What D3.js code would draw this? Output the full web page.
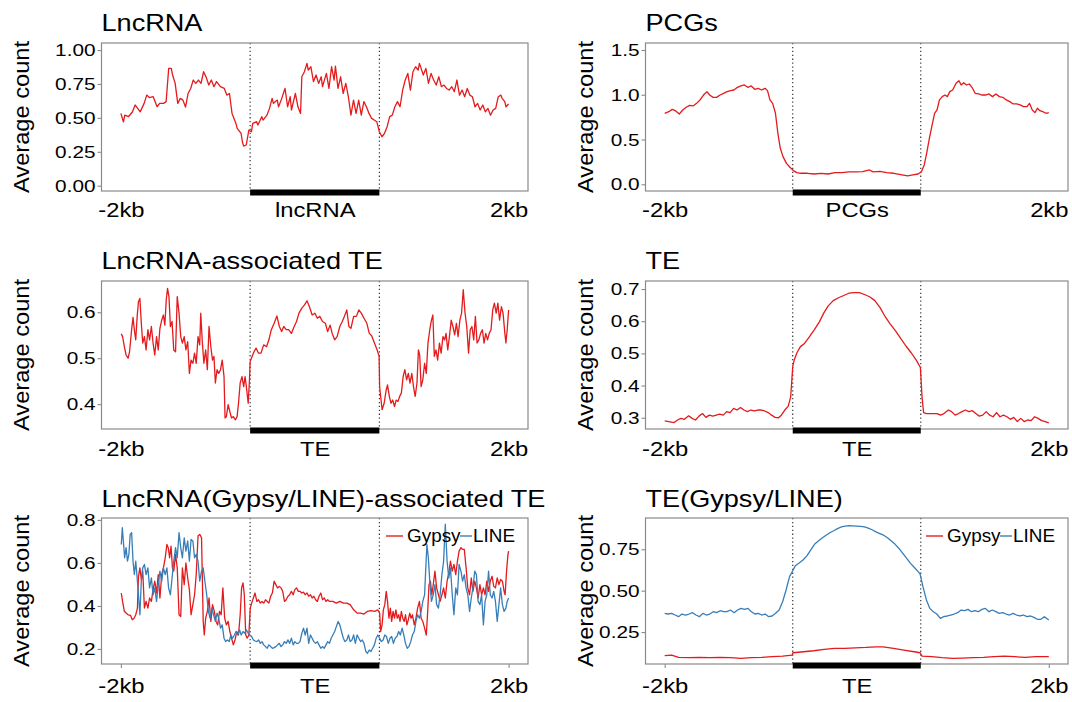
<!DOCTYPE html>
<html><head><meta charset="utf-8">
<script src="https://cdn.jsdelivr.net/npm/d3@7"></script>
<style>body{margin:0;background:#fff}svg{display:block}</style>
</head><body>
<svg id="c" width="1072" height="702"></svg>
<script>
// ---------------- data (bin position 0..300, average count) ----------------
const titles = ["LncRNA", "PCGs", "LncRNA-associated TE", "TE", "LncRNA(Gypsy/LINE)-associated TE", "TE(Gypsy/LINE)"];
const xLabelsLnc = ["-2kb", "lncRNA", "2kb"];
const xLabelsPcg = ["-2kb", "PCGs", "2kb"];
const xLabelsTe = ["-2kb", "TE", "2kb"];
const xTickBins = [0, 150, 300];
const regionBins = [100, 200];
const seriesNames = ["Gypsy", "LINE"];

const yTicks1 = [0, 0.25, 0.5, 0.75, 1.0];   const yLabels1 = ["0.00","0.25","0.50","0.75","1.00"];
const yTicks2 = [0, 0.5, 1.0, 1.5];          const yLabels2 = ["0.0","0.5","1.0","1.5"];
const yTicks3 = [0.4, 0.5, 0.6];             const yLabels3 = ["0.4","0.5","0.6"];
const yTicks4 = [0.3, 0.4, 0.5, 0.6, 0.7];   const yLabels4 = ["0.3","0.4","0.5","0.6","0.7"];
const yTicks5 = [0.2, 0.4, 0.6, 0.8];        const yLabels5 = ["0.2","0.4","0.6","0.8"];
const yTicks6 = [0.25, 0.5, 0.75];           const yLabels6 = ["0.25","0.50","0.75"];

const lncProfile = [[0,0.533],[2,0.47],[3,0.52],[6,0.51],[9,0.545],[11,0.595],[13,0.57],[15,0.545],[18,0.607],[20,0.668],[22,0.65],[25,0.656],[28,0.582],[30,0.607],[33,0.607],[35,0.62],[37,0.865],[39,0.865],[40,0.816],[42,0.754],[44,0.607],[46,0.644],[48,0.631],[50,0.58],[52,0.68],[54,0.717],[56,0.779],[58,0.754],[60,0.779],[62,0.754],[64,0.84],[66,0.80],[68,0.742],[70,0.779],[72,0.73],[74,0.767],[77,0.73],[80,0.717],[82,0.668],[84,0.68],[86,0.533],[89,0.459],[90,0.423],[93,0.386],[94,0.324],[95,0.292],[97,0.30],[99,0.41],[101,0.398],[102,0.459],[105,0.472],[106,0.447],[109,0.509],[110,0.484],[113,0.52],[115,0.57],[117,0.644],[118,0.607],[121,0.631],[122,0.582],[124,0.631],[127,0.717],[129,0.582],[131,0.656],[132,0.558],[135,0.68],[137,0.582],[139,0.533],[140,0.803],[142,0.84],[144,0.902],[145,0.852],[147,0.877],[149,0.767],[151,0.816],[153,0.754],[155,0.803],[156,0.73],[159,0.828],[161,0.717],[163,0.877],[165,0.779],[166,0.882],[168,0.717],[170,0.803],[172,0.68],[174,0.754],[176,0.656],[178,0.52],[180,0.631],[182,0.533],[184,0.631],[186,0.52],[188,0.62],[190,0.582],[192,0.533],[194,0.496],[196,0.484],[198,0.472],[200,0.398],[202,0.361],[204,0.386],[206,0.435],[208,0.509],[210,0.52],[212,0.582],[214,0.62],[216,0.582],[218,0.705],[220,0.779],[222,0.828],[224,0.705],[226,0.84],[228,0.877],[230,0.852],[231,0.902],[234,0.816],[236,0.865],[238,0.754],[240,0.828],[242,0.779],[244,0.742],[246,0.803],[248,0.73],[250,0.742],[252,0.717],[254,0.705],[256,0.73],[258,0.693],[260,0.779],[262,0.668],[264,0.705],[266,0.656],[268,0.717],[270,0.668],[272,0.656],[274,0.582],[276,0.607],[278,0.558],[280,0.595],[282,0.545],[284,0.57],[286,0.52],[288,0.558],[290,0.57],[292,0.656],[294,0.668],[295,0.644],[297,0.62],[298,0.582],[300,0.602]];

const pcgProfile = [[0,0.793],[3.2,0.811],[5.9,0.837],[8.6,0.819],[11.4,0.785],[14.1,0.83],[16.8,0.86],[19.5,0.882],[22.2,0.875],[24.9,0.904],[27.6,0.942],[30.3,0.997],[33,1.035],[35.1,0.997],[37.8,0.971],[40.5,0.971],[43.2,0.997],[46,1.016],[48.7,1.035],[51.4,1.046],[54.1,1.053],[56.8,1.083],[59.5,1.098],[62.2,1.109],[64.9,1.083],[67.6,1.098],[70.3,1.061],[73,1.072],[75.7,1.053],[78.4,1.072],[80.3,1.046],[82.2,0.942],[84.3,0.904],[86.5,0.793],[88.4,0.569],[90.3,0.402],[92.4,0.309],[95.1,0.234],[97.8,0.19],[100.5,0.153],[103.2,0.13],[106,0.123],[111.4,0.123],[116.8,0.115],[122.2,0.123],[127.6,0.115],[133,0.13],[138.4,0.13],[143.8,0.138],[149.2,0.138],[154.6,0.141],[160,0.16],[162.7,0.138],[168.1,0.145],[173.5,0.13],[178.9,0.123],[184.3,0.108],[189.8,0.093],[193.8,0.104],[197.9,0.115],[200.5,0.141],[202.7,0.216],[204.6,0.346],[206.5,0.495],[208.6,0.644],[210.8,0.793],[212.7,0.83],[214.6,0.942],[216.8,0.979],[218.9,0.997],[220.8,0.979],[222.7,1.035],[224.9,1.053],[227.6,1.128],[229.8,1.157],[231.6,1.109],[233.5,1.135],[235.7,1.109],[237.9,1.12],[240,1.083],[242.5,1.016],[245.2,1.009],[247.9,0.997],[250.6,0.997],[253.3,1.009],[256,0.979],[258.7,1.009],[261.4,0.979],[264.1,0.971],[266.8,0.942],[269.5,0.923],[272.2,0.897],[274.9,0.897],[277.6,0.886],[280.3,0.867],[283,0.867],[284.9,0.904],[287.1,0.83],[289.2,0.8],[291.1,0.849],[293,0.822],[295.2,0.811],[297.9,0.793],[300,0.8]];

const lncTeProfile = [[0.3,0.553],[1.3,0.547],[2.7,0.525],[4,0.507],[5.6,0.5],[6.7,0.514],[8.3,0.562],[9.4,0.589],[10.4,0.562],[11.5,0.54],[12.6,0.591],[13.6,0.623],[14.7,0.63],[15.8,0.576],[16.9,0.533],[18.2,0.547],[19.5,0.518],[20.9,0.562],[22.2,0.54],[23.6,0.569],[24.9,0.533],[26.2,0.507],[27.6,0.547],[28.9,0.518],[30.2,0.565],[31.6,0.583],[32.9,0.594],[34,0.572],[35.1,0.627],[36.1,0.652],[37.2,0.634],[38.3,0.569],[39.6,0.58],[40.9,0.518],[42.3,0.514],[43.6,0.634],[45,0.598],[46.3,0.547],[47.6,0.533],[49,0.547],[50.3,0.518],[51.7,0.536],[53,0.467],[54.3,0.496],[55.7,0.489],[57,0.511],[58.3,0.489],[59.7,0.547],[61,0.529],[61.8,0.598],[62.9,0.54],[64.2,0.489],[65.6,0.518],[66.9,0.475],[68.2,0.569],[69.6,0.525],[70.9,0.496],[72,0.504],[73.1,0.446],[74.4,0.475],[75.7,0.467],[77.1,0.475],[78.4,0.496],[79.8,0.46],[80.6,0.37],[81.6,0.373],[83,0.399],[84.3,0.384],[85.6,0.37],[87,0.373],[88.6,0.366],[89.9,0.373],[91,0.402],[92.3,0.446],[93.7,0.46],[95,0.438],[96.1,0.46],[97.1,0.438],[98.5,0.402],[99.5,0.453],[100,0.493],[102.5,0.511],[104.6,0.522],[106.5,0.511],[108.4,0.511],[110.5,0.529],[112.7,0.525],[114.5,0.54],[116.4,0.562],[118.6,0.576],[120.7,0.592],[122.6,0.569],[124.4,0.558],[126,0.569],[127.9,0.562],[129.8,0.562],[131.9,0.554],[134.1,0.569],[135.9,0.58],[137.8,0.598],[140,0.609],[142.1,0.616],[144,0.625],[145.9,0.612],[148,0.594],[150.1,0.598],[152,0.587],[153.9,0.591],[156,0.58],[158.2,0.576],[160,0.558],[161.9,0.572],[163.5,0.554],[165.4,0.54],[167.3,0.547],[169.4,0.569],[171.3,0.58],[172.9,0.591],[174.8,0.605],[176.4,0.569],[178,0.565],[180.1,0.591],[182.2,0.591],[184.1,0.605],[186,0.598],[188.1,0.587],[190.3,0.576],[192.2,0.554],[194,0.549],[196.2,0.533],[198.3,0.518],[199.8,0.504],[200.2,0.438],[202.1,0.388],[203.7,0.402],[205.3,0.431],[206.3,0.442],[207.7,0.417],[209,0.402],[210.3,0.409],[211.7,0.395],[213,0.409],[214.4,0.406],[215.7,0.417],[217,0.424],[218.4,0.46],[219.7,0.475],[221.1,0.453],[222.4,0.467],[223.7,0.446],[225.1,0.467],[226.4,0.438],[227.7,0.417],[229.1,0.446],[230.2,0.518],[231.2,0.507],[232.3,0.438],[233.6,0.453],[235,0.489],[236.3,0.467],[237.6,0.533],[239,0.562],[240.3,0.583],[241.4,0.594],[242.5,0.504],[243.8,0.518],[245.1,0.496],[246.5,0.533],[247.8,0.511],[249.2,0.547],[250.5,0.54],[251.6,0.554],[252.9,0.518],[254.2,0.547],[255.6,0.583],[256.9,0.569],[258.3,0.551],[259.6,0.576],[260.9,0.547],[262.3,0.583],[263.6,0.598],[264.9,0.649],[266.3,0.598],[267.6,0.569],[269,0.511],[270.3,0.562],[271.6,0.569],[273,0.54],[274.3,0.591],[275.6,0.533],[277,0.54],[278.3,0.554],[279.7,0.562],[281,0.533],[282.3,0.554],[283.7,0.54],[285,0.554],[286.4,0.562],[287.7,0.605],[289,0.62],[290.4,0.598],[291.7,0.62],[293,0.583],[294.4,0.612],[295.7,0.598],[297.1,0.554],[297.9,0.533],[298.9,0.562],[300,0.605]];

const teProfile = [[0,0.29],[3.2,0.288],[7.3,0.285],[10,0.293],[12.7,0.298],[15.4,0.295],[18.7,0.306],[21.4,0.298],[24.1,0.293],[26.8,0.305],[29.5,0.313],[32.2,0.301],[34.9,0.308],[37.6,0.305],[40.3,0.308],[43,0.311],[45.7,0.308],[48.4,0.319],[51.1,0.316],[53.8,0.329],[56.5,0.324],[59.2,0.332],[61.9,0.324],[64.6,0.319],[67.3,0.324],[70,0.321],[72.7,0.324],[75.4,0.324],[78.1,0.321],[80.8,0.316],[83.5,0.308],[86.2,0.301],[88.9,0.3],[91.1,0.308],[93.8,0.324],[96.5,0.336],[98.4,0.365],[100,0.459],[101.1,0.479],[103.3,0.502],[106,0.521],[109.2,0.531],[112.7,0.55],[116.8,0.573],[120.8,0.598],[124.3,0.626],[127.6,0.647],[131.6,0.664],[135.7,0.673],[139.8,0.68],[143.8,0.687],[147.9,0.689],[151.9,0.689],[156,0.683],[160,0.676],[164.1,0.664],[168.1,0.643],[172.2,0.614],[176.2,0.591],[180.3,0.57],[184.3,0.547],[188.4,0.523],[192.5,0.502],[196.5,0.479],[199.7,0.456],[201,0.365],[202.2,0.316],[204.6,0.313],[208.6,0.313],[212.7,0.313],[215.4,0.308],[218.1,0.313],[221.6,0.324],[224.1,0.319],[226.8,0.308],[229.5,0.313],[232.2,0.319],[234.9,0.324],[237.6,0.319],[240.3,0.322],[243,0.313],[245.7,0.305],[248.4,0.308],[251.1,0.319],[253.8,0.308],[256.5,0.303],[259.2,0.316],[261.9,0.303],[264.6,0.308],[267.3,0.303],[270,0.295],[272.7,0.301],[275.4,0.288],[278.1,0.298],[280.8,0.288],[283.5,0.293],[286.2,0.291],[288.9,0.303],[291.7,0.298],[294.4,0.291],[297.1,0.288],[300,0.284]];

const lncGypsyProfile = [[0.3,0.46],[1.3,0.421],[2.7,0.375],[4,0.367],[5.6,0.359],[7.5,0.356],[8.8,0.336],[10.2,0.343],[11.5,0.359],[12.8,0.39],[13.6,0.538],[14.7,0.577],[15.8,0.523],[16.9,0.562],[18.2,0.39],[19.5,0.421],[20.9,0.39],[22.2,0.437],[23.6,0.421],[24.9,0.476],[26.2,0.515],[27.6,0.46],[28.9,0.546],[30.2,0.437],[31.6,0.546],[32.9,0.577],[34.3,0.624],[35.6,0.686],[36.7,0.67],[37.7,0.624],[38.8,0.678],[39.9,0.577],[40.9,0.562],[42.3,0.64],[43.6,0.577],[45,0.359],[46.3,0.351],[47.6,0.577],[49,0.499],[50.3,0.6],[51.7,0.53],[53,0.476],[54.3,0.359],[55.7,0.406],[57,0.452],[58.3,0.546],[59.7,0.725],[61,0.733],[62.4,0.717],[63.7,0.328],[64.5,0.265],[65.6,0.343],[66.9,0.375],[68.2,0.437],[69.6,0.328],[70.9,0.406],[72.3,0.375],[73.6,0.328],[74.9,0.312],[76.3,0.375],[77.6,0.359],[78.9,0.484],[80.3,0.343],[81.6,0.312],[83,0.328],[84.3,0.281],[85.6,0.25],[87,0.219],[88.3,0.242],[89.7,0.281],[91,0.265],[92.3,0.359],[93.4,0.484],[94.5,0.507],[95.5,0.452],[96.6,0.265],[97.7,0.25],[99,0.265],[100.1,0.39],[101.2,0.413],[102.5,0.437],[103.8,0.46],[105.2,0.421],[106.5,0.429],[107.9,0.413],[109.2,0.421],[110.5,0.413],[111.9,0.429],[113.2,0.421],[114.5,0.413],[115.9,0.445],[117.2,0.46],[118.6,0.515],[119.9,0.499],[121.2,0.484],[122.6,0.491],[123.9,0.484],[125.2,0.468],[126.6,0.421],[127.9,0.429],[129.3,0.445],[130.6,0.452],[131.9,0.468],[133.3,0.452],[134.6,0.476],[135.9,0.484],[137.3,0.468],[138.6,0.468],[140,0.46],[141.3,0.464],[142.6,0.452],[144,0.46],[145.3,0.445],[146.7,0.452],[148,0.437],[149.3,0.445],[150.7,0.429],[152,0.421],[153.3,0.445],[154.7,0.46],[156,0.429],[157.4,0.437],[158.7,0.421],[160,0.429],[161.4,0.421],[164,0.421],[166.7,0.413],[169.4,0.421],[172.1,0.413],[174.8,0.413],[177.4,0.406],[180.1,0.382],[182.8,0.367],[185.5,0.367],[188.1,0.362],[190.8,0.375],[193.5,0.378],[196.2,0.375],[198.8,0.382],[200.2,0.367],[201,0.281],[202.1,0.312],[203.1,0.382],[204.2,0.406],[205.3,0.468],[206.3,0.421],[207.4,0.343],[208.5,0.39],[209.5,0.328],[210.6,0.375],[211.7,0.343],[212.8,0.382],[213.8,0.343],[214.9,0.359],[216,0.328],[217,0.375],[218.1,0.343],[219.2,0.328],[220.2,0.359],[221.3,0.312],[222.4,0.336],[223.5,0.367],[224.5,0.343],[225.6,0.359],[227,0.312],[228.3,0.343],[229.6,0.39],[231,0.421],[232.3,0.343],[233.6,0.328],[235,0.297],[236.3,0.265],[237.4,0.375],[238.4,0.499],[239.5,0.515],[240.6,0.452],[241.7,0.499],[243,0.562],[244.3,0.484],[245.7,0.452],[247,0.421],[248.4,0.452],[249.7,0.484],[251,0.437],[252.4,0.515],[253.7,0.554],[255,0.608],[256.4,0.562],[257.7,0.593],[259.1,0.546],[260.4,0.608],[261.7,0.655],[263.1,0.671],[264.4,0.663],[265.7,0.663],[267.1,0.577],[268.4,0.484],[269.8,0.452],[271.1,0.53],[272.4,0.468],[273.8,0.515],[275.1,0.484],[276.4,0.437],[277.8,0.499],[279.1,0.452],[280.5,0.484],[281.8,0.452],[283.1,0.515],[284.5,0.468],[285.8,0.515],[287.2,0.538],[288.5,0.491],[289.8,0.484],[291.2,0.53],[292.5,0.499],[293.8,0.523],[295.2,0.515],[296.5,0.468],[297.3,0.452],[298.4,0.562],[299.5,0.64],[300,0.655]];

const lncLineProfile = [[0.3,0.686],[1.1,0.764],[1.9,0.702],[2.9,0.624],[4,0.671],[5.1,0.608],[6.2,0.64],[7.2,0.733],[8.3,0.741],[9.4,0.608],[10.4,0.546],[11.5,0.608],[12.6,0.53],[13.6,0.452],[14.7,0.359],[15.8,0.515],[16.9,0.577],[18.2,0.593],[19.5,0.546],[20.9,0.577],[22.2,0.484],[23.6,0.53],[24.9,0.452],[26.2,0.484],[27.6,0.421],[28.9,0.499],[30.2,0.562],[31.6,0.515],[32.9,0.577],[34.3,0.546],[35.6,0.577],[36.9,0.484],[38.3,0.452],[39.6,0.53],[40.9,0.608],[42.3,0.671],[43.6,0.624],[45,0.741],[46.3,0.671],[47.6,0.624],[49,0.717],[50.3,0.655],[51.7,0.702],[53,0.608],[54.3,0.709],[55.7,0.702],[57,0.624],[58.3,0.64],[59.7,0.608],[61,0.515],[62.4,0.562],[63.7,0.577],[65,0.515],[66.4,0.452],[67.7,0.375],[69,0.343],[70.4,0.39],[71.7,0.359],[73.1,0.328],[74.4,0.367],[75.7,0.343],[77.1,0.297],[78.4,0.312],[79.8,0.25],[81.1,0.234],[82.4,0.242],[83.8,0.234],[85.1,0.265],[86.4,0.25],[87.8,0.265],[89.1,0.281],[90.5,0.265],[91.8,0.289],[93.1,0.265],[94.5,0.281],[95.8,0.273],[97.1,0.289],[98.5,0.273],[99.8,0.265],[101.2,0.258],[102.5,0.242],[103.8,0.237],[105.2,0.234],[106.5,0.242],[107.9,0.226],[109.2,0.234],[110.5,0.219],[111.9,0.211],[113.2,0.203],[114.5,0.219],[115.9,0.211],[117.2,0.203],[118.6,0.206],[119.9,0.211],[121.2,0.219],[122.6,0.226],[123.9,0.211],[125.2,0.219],[126.6,0.234],[127.9,0.226],[129.3,0.242],[130.6,0.226],[131.9,0.25],[133.3,0.219],[134.6,0.234],[135.9,0.226],[137.3,0.226],[138.6,0.234],[140,0.273],[141.3,0.297],[142.6,0.265],[144,0.297],[145.3,0.226],[146.7,0.265],[148,0.25],[149.3,0.234],[150.7,0.226],[152,0.234],[153.3,0.219],[154.7,0.203],[156,0.211],[157.4,0.203],[158.7,0.219],[160,0.234],[161.4,0.226],[162.7,0.25],[164,0.265],[165.4,0.281],[166.7,0.304],[168.1,0.328],[169.4,0.312],[170.7,0.281],[172.1,0.25],[173.4,0.234],[174.8,0.242],[176.1,0.265],[177.4,0.234],[178.8,0.242],[180.1,0.265],[181.4,0.226],[182.8,0.265],[184.1,0.25],[185.5,0.234],[186.8,0.242],[188.1,0.226],[189.5,0.188],[190.8,0.18],[192.2,0.195],[193.5,0.188],[194.8,0.203],[196.2,0.219],[197.5,0.25],[198.8,0.265],[200.2,0.25],[201.5,0.234],[202.9,0.242],[204.2,0.265],[205.5,0.258],[206.9,0.226],[208.2,0.25],[209.5,0.258],[210.9,0.226],[212.2,0.25],[213.6,0.258],[214.9,0.281],[216.2,0.265],[217.6,0.297],[218.9,0.265],[220.2,0.226],[221.6,0.203],[222.9,0.211],[224.3,0.234],[225.6,0.265],[227,0.281],[228.3,0.328],[229.6,0.359],[231,0.343],[232.3,0.375],[233.6,0.421],[235,0.452],[235.8,0.562],[236.8,0.686],[237.9,0.624],[239,0.515],[240.3,0.421],[241.7,0.452],[243,0.499],[244.3,0.406],[245.7,0.39],[247,0.452],[248.4,0.546],[249.7,0.608],[251,0.78],[252.4,0.608],[253.7,0.53],[255,0.577],[256.4,0.452],[257.7,0.359],[259.1,0.484],[260.4,0.452],[261.7,0.593],[263.1,0.562],[264.4,0.515],[265.7,0.546],[267.1,0.484],[268.4,0.452],[269.8,0.375],[271.1,0.437],[272.4,0.484],[273.8,0.562],[275.1,0.546],[276.4,0.421],[277.8,0.406],[279.1,0.452],[280.5,0.312],[281.8,0.421],[283.1,0.452],[284.5,0.562],[285.8,0.452],[287.2,0.437],[288.5,0.468],[289.8,0.421],[291.2,0.328],[292.5,0.406],[293.8,0.484],[295.2,0.406],[296.5,0.375],[297.9,0.39],[298.9,0.421],[300,0.437]];

const teGypsyProfile = [[0,0.107],[5.4,0.111],[10.8,0.097],[19,0.095],[27.1,0.097],[35.2,0.095],[43.3,0.097],[51.4,0.095],[59.6,0.091],[67.7,0.095],[75.8,0.097],[83.9,0.101],[92.1,0.105],[99.5,0.111],[100.2,0.125],[108.3,0.131],[116.4,0.137],[124.5,0.145],[132.7,0.151],[140.8,0.151],[148.9,0.155],[157,0.157],[165.2,0.161],[170.6,0.161],[178.7,0.151],[186.8,0.141],[194.9,0.131],[199.5,0.125],[201,0.105],[208.5,0.101],[216.6,0.095],[224.7,0.091],[232.9,0.093],[241,0.095],[249.1,0.097],[257.2,0.101],[265.3,0.105],[273.5,0.101],[281.6,0.097],[289.7,0.101],[300,0.101]];

const teLineProfile = [[0,0.363],[2.7,0.359],[5.4,0.363],[8.1,0.353],[10.8,0.343],[13.5,0.359],[16.2,0.353],[19,0.359],[21.7,0.367],[24.4,0.353],[27.1,0.343],[29.8,0.363],[32.5,0.353],[35.2,0.359],[37.9,0.373],[40.6,0.367],[43.3,0.379],[46,0.373],[48.7,0.373],[51.4,0.383],[54.2,0.367],[56.9,0.383],[59.6,0.393],[62.3,0.387],[65,0.393],[67.7,0.373],[70.4,0.359],[73.1,0.363],[75.8,0.353],[78.5,0.359],[81.2,0.343],[83.9,0.347],[86.6,0.363],[89.4,0.383],[92.1,0.433],[94.8,0.504],[97.5,0.585],[100,0.62],[102,0.65],[105,0.667],[108,0.685],[111,0.71],[114,0.745],[117,0.78],[120,0.80],[123,0.818],[126,0.835],[129,0.85],[132,0.862],[135,0.875],[138,0.885],[141,0.89],[144,0.893],[147,0.892],[150,0.89],[153,0.888],[156,0.885],[159,0.878],[162,0.868],[165,0.855],[168,0.845],[171,0.835],[174,0.82],[177,0.80],[180,0.78],[183,0.755],[186,0.725],[189,0.695],[192,0.665],[195,0.64],[198,0.615],[199.5,0.6],[201.7,0.524],[204.4,0.444],[207.1,0.393],[209.8,0.373],[212.5,0.359],[215.3,0.333],[218,0.343],[220.7,0.347],[223.4,0.353],[226.1,0.359],[228.8,0.367],[231.5,0.383],[234.2,0.379],[236.9,0.387],[239.6,0.373],[242.3,0.379],[245,0.373],[247.7,0.387],[250.5,0.393],[253.2,0.373],[255.9,0.383],[258.6,0.373],[261.3,0.363],[264,0.367],[266.7,0.359],[269.4,0.353],[272.1,0.363],[274.8,0.353],[277.5,0.347],[280.2,0.353],[282.9,0.343],[285.7,0.347],[288.4,0.339],[291.1,0.327],[293.8,0.327],[296.5,0.343],[300,0.323]];

// ---------------- drawing ----------------
const RED = "#E41A1C", BLUE = "#377EB8", FRAME = "#8a8a8a";
const FONT = "'Liberation Sans', Arial, Helvetica, sans-serif";
const svg = d3.select("#c").style("font-family", FONT);
svg.append("rect").attr("width", 1072).attr("height", 702).attr("fill", "#fff");

function hText(g, x, y, str, size, anchor, sx) {
  return g.append("text")
    .attr("transform", `translate(${x},${y}) scale(${sx},1)`)
    .attr("text-anchor", anchor)
    .style("font-size", size + "px")
    .attr("fill", "#000")
    .text(str);
}

function panel(cfg) {
  const { box, title, xLabels, yDomain, yTicks, yLabels, series, legend, xTickMarks, titleY, ylabX, xlabOff } = cfg;
  const g = svg.append("g");
  const x = d3.scaleLinear().domain([-15, 315]).range([box.x0, box.x1]);
  const y = d3.scaleLinear().domain(yDomain).range([box.y1, box.y0]);

  hText(g, box.x0, titleY, title, 24, "start", 1.13);

  g.append("text")
    .attr("transform", `translate(${ylabX},${(box.y0 + box.y1) / 2}) rotate(-90)`)
    .attr("text-anchor", "middle")
    .attr("textLength", 152).attr("lengthAdjust", "spacingAndGlyphs")
    .style("font-size", "22.5px").attr("fill", "#000")
    .text("Average count");

  const ya = g.append("g").attr("transform", `translate(${box.x0},0)`)
    .call(d3.axisLeft(y).tickValues(yTicks).tickFormat((d, i) => yLabels[i]).tickSizeInner(4).tickSizeOuter(0).tickPadding(1));
  ya.select(".domain").remove();
  ya.selectAll(".tick line").attr("stroke", FRAME).attr("stroke-width", 1.1);
  ya.selectAll(".tick text").attr("fill", "#000").style("font-size", "17.3px").style("font-family", FONT)
    .attr("transform", "scale(1.2,1)");

  const xa = g.append("g").attr("transform", `translate(0,${box.y1})`)
    .call(d3.axisBottom(x).tickValues(xTickBins).tickFormat((d, i) => xLabels[i]).tickSizeInner(xTickMarks ? 4 : 0).tickSizeOuter(0));
  xa.select(".domain").remove();
  xa.selectAll(".tick line").attr("stroke", FRAME).attr("stroke-width", 1.1)
    .filter((d, i) => i === 1).remove();
  xa.selectAll(".tick text").attr("fill", "#000").style("font-size", "20.5px").style("font-family", FONT)
    .attr("y", xlabOff).attr("dy", 0).attr("transform", "scale(1.16,1)");

  const cid = "clip" + cfg.id;
  g.append("clipPath").attr("id", cid).append("rect")
    .attr("x", box.x0).attr("y", box.y0).attr("width", box.x1 - box.x0).attr("height", box.y1 - box.y0);

  g.selectAll(".reg").data(regionBins).join("line")
    .attr("x1", d => x(d)).attr("x2", d => x(d))
    .attr("y1", box.y0).attr("y2", box.y1)
    .attr("stroke", "#222").attr("stroke-width", 1.1).attr("stroke-dasharray", "1.3,2.6");

  const line = d3.line().x(d => x(d[0])).y(d => y(d[1]));
  const lg = g.append("g").attr("clip-path", `url(#${cid})`);
  series.forEach(s => {
    lg.append("path").datum(s.data).attr("d", line)
      .attr("fill", "none").attr("stroke", s.color).attr("stroke-width", 1.3)
      .attr("stroke-linejoin", "round");
  });

  g.append("rect").attr("x", box.x0).attr("y", box.y0)
    .attr("width", box.x1 - box.x0).attr("height", box.y1 - box.y0)
    .attr("fill", "none").attr("stroke", FRAME).attr("stroke-width", 1.2);

  g.append("rect").attr("x", x(regionBins[0])).attr("y", box.y1 - 1.5)
    .attr("width", x(regionBins[1]) - x(regionBins[0])).attr("height", 6)
    .attr("fill", "#000");

  if (legend) {
    const ly = 536;
    const lgd = g.append("g");
    const keys = [
      { name: seriesNames[0], color: RED, k0: -142, k1: -125, t: -121 },
      { name: seriesNames[1], color: BLUE, k0: -68, k1: -56, t: -55 }
    ];
    keys.forEach(k => {
      lgd.append("line").attr("x1", box.x1 + k.k0).attr("x2", box.x1 + k.k1)
        .attr("y1", ly).attr("y2", ly).attr("stroke", k.color).attr("stroke-width", 1.7).attr("opacity", 0.8);
      hText(lgd, box.x1 + k.t, ly + 6.3, k.name, 17.5, "start", 1.08);
    });
  }
}

const L = { x0: 101.5, x1: 528 }, R = { x0: 645.5, x1: 1068 };

panel({ id: 1, box: { ...L, y0: 43, y1: 191 }, title: titles[0], xLabels: xLabelsLnc,
  yDomain: [-0.039, 1.052], yTicks: yTicks1, yLabels: yLabels1, titleY: 30.5, ylabX: 28.5, xlabOff: 26.5,
  series: [{ data: lncProfile, color: RED }] });
panel({ id: 2, box: { ...R, y0: 43, y1: 191 }, title: titles[1], xLabels: xLabelsPcg,
  yDomain: [-0.075, 1.578], yTicks: yTicks2, yLabels: yLabels2, titleY: 30.5, ylabX: 592.5, xlabOff: 26.5,
  series: [{ data: pcgProfile, color: RED }] });
panel({ id: 3, box: { ...L, y0: 281, y1: 429 }, title: titles[2], xLabels: xLabelsTe,
  yDomain: [0.346, 0.668], yTicks: yTicks3, yLabels: yLabels3, titleY: 268.5, ylabX: 28.5, xlabOff: 27.5,
  series: [{ data: lncTeProfile, color: RED }] });
panel({ id: 4, box: { ...R, y0: 281, y1: 429 }, title: titles[3], xLabels: xLabelsTe,
  yDomain: [0.265, 0.725], yTicks: yTicks4, yLabels: yLabels4, titleY: 268.5, ylabX: 592.5, xlabOff: 27.5,
  series: [{ data: teProfile, color: RED }] });
panel({ id: 5, box: { ...L, y0: 518, y1: 664 }, title: titles[4], xLabels: xLabelsTe,
  yDomain: [0.130, 0.809], yTicks: yTicks5, yLabels: yLabels5, titleY: 506.5, ylabX: 28.5, xlabOff: 29, xTickMarks: true, legend: true,
  series: [{ data: lncGypsyProfile, color: RED }, { data: lncLineProfile, color: BLUE }] });
panel({ id: 6, box: { ...R, y0: 518, y1: 664 }, title: titles[5], xLabels: xLabelsTe,
  yDomain: [0.057, 0.939], yTicks: yTicks6, yLabels: yLabels6, titleY: 506.5, ylabX: 592.5, xlabOff: 29, xTickMarks: true, legend: true,
  series: [{ data: teGypsyProfile, color: RED }, { data: teLineProfile, color: BLUE }] });
</script>
</body></html>
